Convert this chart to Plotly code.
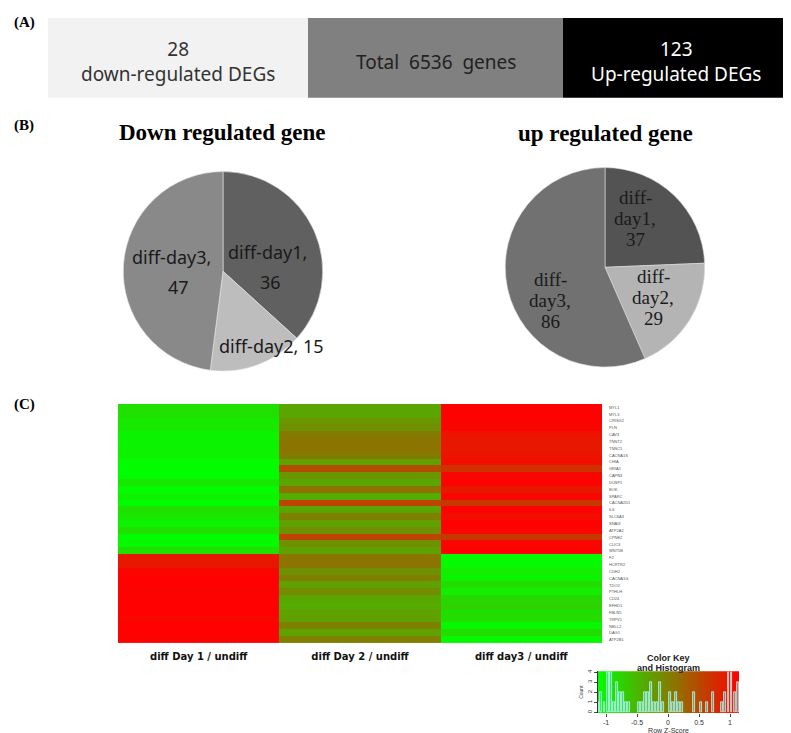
import numpy as np
import plotly.graph_objects as go

W, H = 791, 733

# ---------------- data ----------------
summary_counts = [28, 6536, 123]
summary_labels = ["down-regulated DEGs", "genes", "Up-regulated DEGs"]

pie_labels = ["diff-day1", "diff-day2", "diff-day3"]
down_values = [36, 15, 47]
up_values = [37, 29, 86]

genes = ["MYL1", "MYL3", "CRISG2", "PLN", "CAV3", "TNNT2", "TNNC1", "CACNA1S", "CHIA", "GRIA1",
         "CAPN3", "DUSP1", "BOK", "SPARC", "CACNA2D1", "IL6", "SLC6A3", "SNAI3", "ATP2A2", "CPNE2",
         "CLIC3", "WNT5B", "F2", "HCRTR2", "CDH2", "CACNA1G", "TDO2", "PTHLH", "CD24", "EFHD1",
         "FBLN5", "TRPV1", "NELL2", "DAG1", "ATP2B1"]
conditions = ["diff Day 1 / undiff", "diff Day 2 / undiff", "diff day3 / undiff"]

day1_z = [-0.87, -0.87, -0.95, -0.95, -1.05, -1.05, -1.05, -1.05, -1.12, -1.15, -1.15, -0.95,
          -1.13, -1.05, -1.15, -0.87, -0.95, -1.05, -0.87, -1.15, -1.10, -0.87,
          0.95, 0.95, 1.10, 1.15, 1.15, 1.12, 1.15, 1.15, 1.15, 1.10, 1.15, 1.15, 1.12]
day2_z = [-0.34, -0.34, -0.20, -0.15, 0.05, 0.10, 0.10, 0.05, -0.30, 0.47, -0.20, -0.34,
          0.13, -0.40, 0.55, -0.35, 0.00, -0.30, -0.15, 0.55, -0.15, -0.30,
          0.10, 0.10, -0.15, 0.00, -0.30, -0.10, -0.35, -0.40, -0.30, -0.30, 0.00, -0.30, 0.00]
day3_z = [1.15, 1.15, 1.12, 1.10, 0.98, 0.95, 0.95, 0.98, 1.05, 0.70, 1.10, 1.13,
          0.95, 1.10, 0.65, 1.15, 1.05, 1.15, 1.10, 0.65, 1.10, 1.15,
          -1.15, -1.10, -1.00, -1.05, -0.85, -1.00, -0.80, -0.75, -0.85, -0.85, -1.10, -0.85, -1.10]

hist_x = [-1.125, -1.075, -1.025, -0.975, -0.925, -0.875, -0.825, -0.775, -0.725, -0.675, -0.625,
          -0.475, -0.425, -0.375, -0.325, -0.275, -0.225, -0.175, -0.125, -0.075, 0.025, 0.075,
          0.125, 0.175, 0.225, 0.425, 0.525, 0.625, 0.725, 0.875, 0.925, 0.975, 1.025, 1.075, 1.125]
hist_n = [1, 2, 1, 4, 4, 1, 3, 2, 2, 1, 1, 1, 1, 2, 2, 3, 1, 1, 3, 1, 2, 1, 2, 1, 1, 2, 1, 1, 2,
          1, 2, 4, 4, 2, 3]
key_ticks = [-1, -0.5, 0, 0.5, 1]


def px(x):
    return x / W


def py(y):
    return 1 - y / H


def note(x, y, text, font, xa="center", ya="middle"):
    return dict(x=px(x), y=py(y), xref="paper", yref="paper", text=text, showarrow=False,
                font=font, xanchor=xa, yanchor=ya)


fig = go.Figure()
shapes, annotations = [], []

# ---------------- panel A ----------------
box_edges = [40, 300, 555, 780]
box_top, box_bot = 8, 88
box_fill = ["#f2f2f2", "#808080", "#000000"]
box_text_col = ["#333333", "#222222", "#ffffff"]
box_text = [f"{summary_counts[0]}<br>{summary_labels[0]}",
            f"Total  {summary_counts[1]}  {summary_labels[1]}",
            f"{summary_counts[2]}<br>{summary_labels[2]}"]
for i in range(3):
    shapes.append(dict(type="rect", xref="paper", yref="paper",
                       x0=px(box_edges[i]), x1=px(box_edges[i + 1]), y0=py(box_bot), y1=py(box_top),
                       fillcolor=box_fill[i], line=dict(width=0), layer="below"))
    cx = (box_edges[i] + box_edges[i + 1]) / 2
    annotations.append(note(cx, 52, box_text[i], dict(family="Noto Sans", size=19, color=box_text_col[i])))

# panel letters
for lab, yy in [("(A)", 13), ("(B)", 116), ("(C)", 396)]:
    annotations.append(note(16, yy, f"<b>{lab}</b>", dict(family="Liberation Serif", size=15, color="#000")))

# ---------------- panel B: pies ----------------
annotations.append(note(214, 123, "<b>Down regulated gene</b>",
                        dict(family="Liberation Serif", size=23, color="#000")))
annotations.append(note(597, 124, "<b>up regulated gene</b>",
                        dict(family="Liberation Serif", size=23, color="#000")))

lc, lr = (215, 262), 100
fig.add_trace(go.Pie(values=down_values, labels=pie_labels, sort=False, direction="clockwise",
                     marker=dict(colors=["#606060", "#bdbdbd", "#898989"], line=dict(color="#e6e6e6", width=0.6)),
                     textinfo="none", showlegend=False, hoverinfo="label+value",
                     domain=dict(x=[px(lc[0] - lr), px(lc[0] + lr)], y=[py(lc[1] + lr), py(lc[1] - lr)])))
rc, rr = (597, 258), 100
fig.add_trace(go.Pie(values=up_values, labels=pie_labels, sort=False, direction="clockwise",
                     marker=dict(colors=["#535353", "#b4b4b4", "#717171"], line=dict(color="#dddddd", width=0.6)),
                     textinfo="none", showlegend=False, hoverinfo="label+value",
                     domain=dict(x=[px(rc[0] - rr), px(rc[0] + rr)], y=[py(rc[1] + rr), py(rc[1] - rr)])))

sans_lab = dict(family="Noto Sans", size=18, color="#1a1a1a")
serif_lab = dict(family="Liberation Serif", size=19, color="#1a1a1a")
down_lines = [
    [(f"{pie_labels[0]},", 259, 243), (f"{down_values[0]}", 262, 273)],
    [(f"{pie_labels[1]}, {down_values[1]}", 263, 337)],
    [(f"{pie_labels[2]},", 163, 248), (f"{down_values[2]}", 170, 278)],
]
for grp in down_lines:
    for t, x, y in grp:
        annotations.append(note(x, y, t, sans_lab))
up_pos = [(627, 188), (645, 267), (542, 270)]
for i, (x, y) in enumerate(up_pos):
    pre, suf = pie_labels[i].split("-")
    for k, t in enumerate([pre + "-", suf + ",", str(up_values[i])]):
        annotations.append(note(x, y + 21 * k, t, serif_lab))

# ---------------- panel C: heatmap ----------------
z = [list(r) for r in zip(day1_z, day2_z, day3_z)]
rg_scale = [[0, "#00ff00"], [0.5, "#808000"], [1, "#ff0000"]]
fig.add_trace(go.Heatmap(z=z, x=conditions, y=genes, colorscale=rg_scale, zmin=-1.155, zmax=1.155,
                         showscale=False, xaxis="x", yaxis="y"))

# colour key gradient + histogram
grad_x = np.linspace(-1.155, 1.155, 121)
fig.add_trace(go.Heatmap(z=[grad_x, grad_x], x=grad_x, y=[-0.2, 4.4], colorscale=rg_scale,
                         zmin=-1.155, zmax=1.155, showscale=False, xaxis="x2", yaxis="y2",
                         hoverinfo="skip"))
fig.add_trace(go.Bar(x=hist_x, y=hist_n, width=0.03, xaxis="x2", yaxis="y2", showlegend=False,
                     marker=dict(color="rgba(64,224,208,0.55)", line=dict(color="rgba(210,255,250,0.9)", width=0.8))))

annotations.append(note(660, 650, "<b>Color Key</b>", dict(family="Liberation Sans", size=9, color="#222")))
annotations.append(note(660, 660, "<b>and Histogram</b>", dict(family="Liberation Sans", size=9, color="#222")))

fig.update_layout(
    width=W, height=H, margin=dict(l=0, r=0, t=0, b=0),
    paper_bgcolor="white", plot_bgcolor="white",
    shapes=shapes, annotations=annotations, bargap=0,
    xaxis=dict(domain=[px(110), px(594)], anchor="y", showgrid=False, zeroline=False, ticks="",
               ticklabelstandoff=6,
               tickfont=dict(family="DejaVu Sans", size=10, color="#111", weight="bold"), showline=False),
    yaxis=dict(domain=[py(635), py(395)], anchor="x", autorange="reversed", side="right",
               showgrid=False, zeroline=False, ticks="", type="category", ticklabelstandoff=6,
               tickfont=dict(family="Liberation Sans", size=4, color="#555")),
    xaxis2=dict(domain=[px(590), px(731)], anchor="y2", range=[-1.13, 1.145], tickvals=key_ticks,
                ticktext=[str(v) for v in key_ticks], ticks="outside", ticklen=3, showgrid=False,
                zeroline=False, showline=False, tickfont=dict(family="Liberation Sans", size=7, color="#333"),
                title=dict(text="Row Z-Score", font=dict(family="Liberation Sans", size=7, color="#333"), standoff=2)),
    yaxis2=dict(domain=[py(705), py(663)], anchor="x2", range=[-0.05, 4.1], tickvals=[0, 1, 2, 3, 4],
                ticks="outside", ticklen=3, showgrid=False, zeroline=False, showline=True, linecolor="#333",
                linewidth=0.8, tickangle=-90, tickfont=dict(family="Liberation Sans", size=6, color="#333"),
                title=dict(text="Count", font=dict(family="Liberation Sans", size=5, color="#333"), standoff=2)),
)

fig.write_html("out.html")
